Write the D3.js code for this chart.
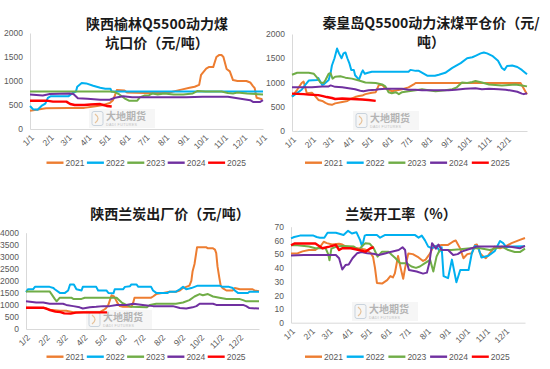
<!DOCTYPE html>
<html><head><meta charset="utf-8">
<script src="https://cdn.jsdelivr.net/npm/d3@7"></script>
<style>body{margin:0;background:#fff;}svg{display:block;}</style>
</head><body>
<script>
// ---------- DATA ----------
const years = ["2021","2022","2023","2024","2025"];
const yearColors = ["#ED7D31","#00B0F0","#70AD47","#7030A0","#FF0000"];

// x positions are day offsets within the year (0 = first tick, 365 = year end)
const tickDays = [0,31,59,90,120,151,181,212,243,273,304,334,365];
const labelsA = ["1/1","2/1","3/1","4/1","5/1","6/1","7/1","8/1","9/1","10/1","11/1","12/1","1/1"];
const labelsB = ["1/1","2/1","3/1","4/1","5/1","6/1","7/1","8/1","9/1","10/1","11/1","12/1"];
const labelsC = ["1/2","2/2","3/2","4/2","5/2","6/2","7/2","8/2","9/2","10/2","11/2","12/2"];

const ticksYulin = [0,500,1000,1500,2000];
const ticksQhd = [0,500,1000,1500,2000];
const ticksLantan = [0,500,1000,1500,2000,2500,3000,3500,4000];
const ticksRate = [0,10,20,30,40,50,60,70];

// 陕西榆林Q5500动力煤坑口价
const yl2021 = [[0,380],[15,410],[25,430],[60,440],[85,440],[100,470],[115,500],[125,540],[130,600],[133,700],[136,810],[148,800],[152,760],[180,750],[215,750],[237,820],[250,860],[258,880],[265,920],[268,1130],[276,1260],[280,1290],[287,1290],[292,1500],[296,1540],[300,1540],[303,1500],[308,1250],[313,1200],[318,1020],[325,1000],[339,1000],[345,970],[349,900],[352,850],[355,650],[364,620]];
const yl2022 = [[0,480],[5,410],[12,400],[18,480],[24,530],[28,650],[32,680],[60,680],[68,760],[72,780],[74,880],[81,960],[88,950],[99,900],[110,860],[118,840],[126,840],[128,780],[365,780]];
const yl2023 = [[0,780],[125,780],[133,770],[140,720],[148,640],[155,590],[168,590],[172,660],[180,700],[186,700],[192,740],[200,720],[210,740],[225,720],[240,720],[255,740],[262,790],[275,780],[300,780],[310,750],[318,740],[325,760],[340,740],[365,720]];
const yl2024 = [[0,720],[20,700],[31,730],[62,740],[68,730],[75,640],[90,630],[100,620],[110,610],[125,610],[133,650],[146,680],[160,660],[235,660],[245,660],[270,670],[310,670],[330,630],[345,600],[350,560],[360,560],[365,600]];
const yl2025 = [[0,590],[26,590],[36,570],[57,570],[63,520],[70,500],[85,500],[95,510],[110,520],[115,500],[120,480],[128,470]];

// 秦皇岛Q5500动力沫煤平仓价
const qh2021 = [[0,710],[8,850],[15,990],[18,1020],[23,780],[31,790],[36,720],[41,640],[47,620],[52,580],[57,550],[62,540],[67,570],[78,600],[86,620],[91,660],[98,700],[104,720],[109,730],[114,760],[124,790],[130,800],[135,950],[140,950],[145,880],[152,840],[155,820],[171,860],[181,900],[189,960],[192,990],[355,990],[365,760]];
const qh2022 = [[0,710],[15,850],[20,940],[26,1040],[39,1050],[41,1090],[47,950],[49,960],[57,1050],[60,1200],[62,1350],[66,1500],[70,1700],[73,1600],[77,1500],[80,1600],[83,1620],[86,1500],[89,1400],[92,1260],[96,1260],[98,1150],[104,1060],[108,1200],[110,1250],[113,1180],[118,1200],[124,1220],[181,1220],[184,1260],[192,1240],[197,1240],[210,1140],[222,1140],[228,1160],[238,1200],[249,1300],[262,1400],[272,1500],[280,1520],[285,1550],[293,1600],[298,1620],[303,1600],[311,1550],[320,1450],[326,1300],[330,1260],[334,1340],[342,1350],[350,1320],[357,1260],[365,1170]];
const qh2023 = [[0,1160],[8,1200],[26,1200],[34,1180],[39,1100],[44,1000],[49,990],[52,1050],[57,1180],[60,1190],[63,1080],[67,1120],[75,1130],[83,1100],[93,1080],[104,1040],[114,1000],[130,990],[140,960],[145,920],[150,800],[155,780],[161,800],[166,760],[171,800],[181,820],[192,840],[202,860],[212,840],[223,820],[238,840],[249,860],[256,900],[264,1000],[272,990],[280,1010],[285,1030],[295,1000],[306,960],[316,950],[326,940],[337,950],[347,960],[357,940],[365,920]];
const qh2024 = [[0,903],[31,900],[47,920],[57,920],[60,940],[67,910],[78,900],[88,880],[98,860],[106,830],[111,820],[119,840],[130,850],[135,860],[145,870],[171,870],[181,850],[192,850],[202,840],[243,840],[254,850],[269,870],[285,880],[290,870],[295,860],[306,870],[321,860],[332,850],[342,830],[350,810],[357,770],[360,760],[365,780]];
const qh2025 = [[0,770],[18,760],[26,750],[41,740],[48,720],[54,700],[62,680],[67,660],[78,670],[93,660],[109,650],[119,640],[130,620]];

// 陕西兰炭出厂价
const lt2021 = [[0,880],[31,870],[37,800],[53,760],[63,760],[74,700],[116,700],[121,780],[125,850],[129,1000],[134,1400],[138,1350],[141,1200],[144,1050],[147,950],[152,920],[165,920],[168,1100],[170,1300],[196,1300],[199,1350],[204,1450],[215,1500],[225,1550],[235,1550],[241,1600],[246,1700],[251,1750],[256,1800],[259,2000],[261,2400],[264,2700],[268,3400],[282,3400],[285,3350],[293,3350],[296,3300],[298,3150],[300,2600],[303,2100],[305,1800],[308,1700],[314,1600],[324,1600],[327,1700],[335,1650],[355,1650],[358,1600],[365,1570]];
const lt2022 = [[0,1530],[3,1650],[11,1650],[14,1750],[37,1750],[43,1700],[45,1650],[53,1500],[61,1500],[66,1600],[69,1850],[75,1850],[79,1650],[87,1600],[89,1750],[110,1750],[113,1600],[126,1600],[129,1500],[137,1480],[139,1650],[152,1650],[155,1750],[163,1780],[165,1850],[173,1850],[176,1750],[196,1750],[199,1600],[204,1500],[222,1500],[225,1550],[235,1550],[241,1650],[246,1750],[251,1650],[259,1700],[269,1800],[303,1800],[308,1750],[318,1750],[324,1700],[327,1600],[332,1500],[348,1500],[350,1550],[365,1550]];
const lt2023 = [[0,1560],[37,1560],[40,1450],[45,1250],[48,1150],[53,1300],[71,1300],[74,1250],[87,1250],[92,1300],[142,1300],[144,1250],[150,1100],[157,1000],[165,920],[189,900],[194,1000],[204,1050],[235,1050],[246,1100],[256,1200],[264,1350],[272,1450],[277,1400],[285,1450],[293,1350],[303,1300],[314,1250],[334,1250],[340,1200],[345,1150],[365,1150]];
const lt2024 = [[0,1150],[16,1100],[27,1100],[37,1050],[58,1050],[63,1000],[74,950],[84,900],[89,850],[100,900],[110,920],[121,950],[131,950],[142,1000],[157,1000],[168,1050],[183,1000],[199,950],[230,950],[241,870],[251,850],[261,900],[267,950],[272,1050],[293,1050],[298,1000],[340,1000],[345,950],[350,870],[365,850]];
const lt2025 = [[0,880],[28,880],[36,800],[46,720],[54,700],[60,650],[70,640],[78,680],[90,690],[127,690]];

// 兰炭开工率（%）
const kg2021 = [[0,50.5],[10,50.5],[18,52],[28,53],[38,53],[46,55.7],[51,59],[56,58],[64,57],[75,57.6],[80,57],[85,55.7],[101,54.5],[116,53.3],[124,51],[128,48],[131,40],[134,29],[142,28.5],[150,31],[155,34],[159,33],[162,36],[167,48.6],[171,40],[175,32],[178,40],[183,50.5],[190,50],[199,47.6],[206,45],[210,46],[217,50.6],[222,55.5],[235,56.7],[245,56.7],[253,59.2],[257,60],[264,54],[269,47],[275,50],[282,50.6],[287,56.7],[290,57],[295,50.6],[300,48.2],[304,47],[310,50.6],[318,55.5],[326,54.3],[334,55.5],[344,58],[357,60.4],[365,61.8]];
const kg2022 = [[0,61.5],[5,62.5],[14,63.5],[35,63.5],[40,62.5],[45,62],[52,62],[57,65.6],[70,65.6],[82,64],[89,67],[95,65],[102,66],[108,60],[111,55.5],[115,63.5],[118,64],[134,64],[139,62],[147,64],[193,64],[199,62],[204,63.5],[209,60],[214,55.5],[220,54.3],[227,56],[232,52],[235,55],[238,34],[245,32.5],[251,46],[258,29.5],[264,38.4],[277,38.4],[282,50.6],[287,56],[292,55],[297,47.6],[308,48.8],[318,52.4],[326,59.6],[331,58],[336,55],[345,55.5],[365,55.8]];
const kg2023 = [[0,56.5],[10,56.5],[28,55.5],[38,54.3],[54,54.3],[58,50],[60,45.5],[63,54],[71,55.5],[79,56],[98,55.5],[106,53],[111,56],[116,58],[123,57.5],[129,54.3],[135,48.2],[142,51.8],[152,51.8],[157,49.5],[163,47],[170,43.4],[180,43.4],[188,41],[195,40],[201,41],[209,43.4],[217,45.8],[222,37.3],[227,48.2],[232,53],[250,53],[264,53.5],[280,54.3],[295,54.3],[310,53],[318,54],[329,55.5],[339,53],[349,51.5],[357,51.5],[365,54]];
const kg2024 = [[0,49],[20,49.4],[32,49.4],[70,49.4],[75,47],[80,38.8],[85,42],[90,42.5],[96,47],[103,50.6],[110,51.5],[119,50.6],[128,50.2],[137,49.4],[148,50.6],[157,51.8],[168,53],[174,55],[178,53],[180,45],[184,38.4],[196,37.3],[206,35.8],[212,36.5],[216,44],[220,58],[226,54],[230,57],[235,53],[245,53],[253,49.4],[260,50],[266,51.8],[282,54.3],[290,55.5],[340,55.5],[357,54.3],[365,56]];
const kg2025 = [[0,56.5],[6,57.8],[38,57.8],[49,54.3],[60,55.5],[70,56.7],[75,53],[80,54.3],[93,54.3],[106,53],[116,51.8],[124,54.3],[129,55]];

// ---------- LAYOUT ----------
const panels = [
  {title:["陕西榆林Q5500动力煤","坑口价（元/吨）"], tx:157, ty:[24,43],
   box:{l:30,r:263,t:33,b:129}, yTicks:ticksYulin, labels:labelsA,
   series:[yl2021,yl2022,yl2023,yl2024,yl2025], leg:{x:46.5,y:162.7,step:40.4}, wm:{x:89,y:109}},
  {title:["秦皇岛Q5500动力沫煤平仓价（元/","吨）"], tx:431, ty:[23,42],
   box:{l:292,r:527,t:34,b:131}, yTicks:ticksQhd, labels:labelsB,
   series:[qh2021,qh2022,qh2023,qh2024,qh2025], leg:{x:305,y:162.7,step:41.7}, wm:{x:353,y:111}},
  {title:["陕西兰炭出厂价（元/吨）"], tx:170, ty:[214],
   box:{l:26,r:259,t:232.7,b:329}, yTicks:ticksLantan, labels:labelsC,
   series:[lt2021,lt2022,lt2023,lt2024,lt2025], leg:{x:46.5,y:356.7,step:40.3}, wm:{x:86,y:310}},
  {title:["兰炭开工率（%）"], tx:401, ty:[214],
   box:{l:291,r:525,t:226.7,b:322.7}, yTicks:ticksRate, labels:labelsB,
   series:[kg2021,kg2022,kg2023,kg2024,kg2025], leg:{x:305,y:356.7,step:41.7}, wm:{x:352,y:302}}
];

const W = 550, H = 369;
const svg = d3.select("body").append("svg").attr("width",W).attr("height",H);
const axisColor = "#d9d9d9";
const labelFont = "'Liberation Sans', Arial, sans-serif";
const cjkFont = "'Noto Sans CJK SC', sans-serif";

function watermark(g, x, y) {
  const w = g.append("g").attr("transform", `translate(${x},${y})`);
  w.append("rect").attr("width",66).attr("height",19).attr("fill","#f4f4f4").attr("opacity",0.8);
  w.append("rect").attr("x",3).attr("y",2.5).attr("width",11).attr("height",14).attr("rx",2)
    .attr("fill","none").attr("stroke","#c9d3dd").attr("stroke-width",1);
  w.append("path").attr("d","M6,5 Q12,9.5 6,14").attr("fill","none").attr("stroke","#e7c39b").attr("stroke-width",1.3);
  w.append("text").attr("x",17).attr("y",11).attr("font-family",cjkFont).attr("font-size",10)
    .attr("font-weight","bold").attr("fill","#b4b4b4").text("大地期货");
  w.append("text").attr("x",17).attr("y",16.5).attr("font-family",labelFont).attr("font-size",3.6)
    .attr("fill","#c0c0c0").attr("letter-spacing",0.4).text("DADI FUTURES");
}

panels.forEach(p => {
  const g = svg.append("g");
  const b = p.box;
  const x = d3.scaleLinear().domain([0,365]).range([b.l,b.r]);
  const yMax = p.yTicks[p.yTicks.length-1];
  const y = d3.scaleLinear().domain([0,yMax]).range([b.b,b.t]);

  // title
  p.title.forEach((t,i) => {
    g.append("text").attr("x",p.tx).attr("y",p.ty[i]).attr("dy","0.36em")
      .attr("text-anchor","middle").attr("font-family",cjkFont).attr("font-size",14)
      .attr("font-weight","bold").attr("fill","#1a1a1a").text(t);
  });

  watermark(g, p.wm.x, p.wm.y);

  // y axis
  const ya = g.append("g").attr("transform",`translate(${b.l},0)`)
    .call(d3.axisLeft(y).tickValues(p.yTicks).tickSize(0).tickPadding(7).tickFormat(d3.format("d")));
  ya.select(".domain").attr("stroke",axisColor).attr("stroke-width",1);
  ya.selectAll("text").attr("font-family",labelFont).attr("font-size",8.5).attr("fill","#595959");

  // x axis
  const days = tickDays.slice(0,p.labels.length);
  const xa = g.append("g").attr("transform",`translate(0,${b.b})`)
    .call(d3.axisBottom(x).tickValues(days).tickSize(0).tickFormat((d,i)=>p.labels[i]));
  xa.select(".domain").attr("stroke",axisColor).attr("stroke-width",1);
  xa.selectAll("text").attr("font-family",labelFont).attr("font-size",8.5).attr("fill","#595959")
    .attr("text-anchor","end").attr("dy","0.35em")
    .attr("transform","translate(2,7) rotate(-45)").attr("y",0).attr("x",0);

  // lines
  const line = d3.line().x(d=>x(d[0])).y(d=>y(d[1]));
  p.series.forEach((s,i) => {
    g.append("path").datum(s).attr("d",line).attr("fill","none")
      .attr("stroke",yearColors[i]).attr("stroke-width", i===4 ? 2.4 : 2)
      .attr("stroke-linejoin","round");
  });

  // legend
  years.forEach((yr,i) => {
    const lx = p.leg.x + i*p.leg.step;
    g.append("line").attr("x1",lx).attr("x2",lx+17).attr("y1",p.leg.y).attr("y2",p.leg.y)
      .attr("stroke",yearColors[i]).attr("stroke-width",2.4);
    g.append("text").attr("x",lx+19).attr("y",p.leg.y).attr("dy","0.35em")
      .attr("font-family",labelFont).attr("font-size",8.5).attr("fill","#595959").text(yr);
  });
});
</script>
</body></html>
